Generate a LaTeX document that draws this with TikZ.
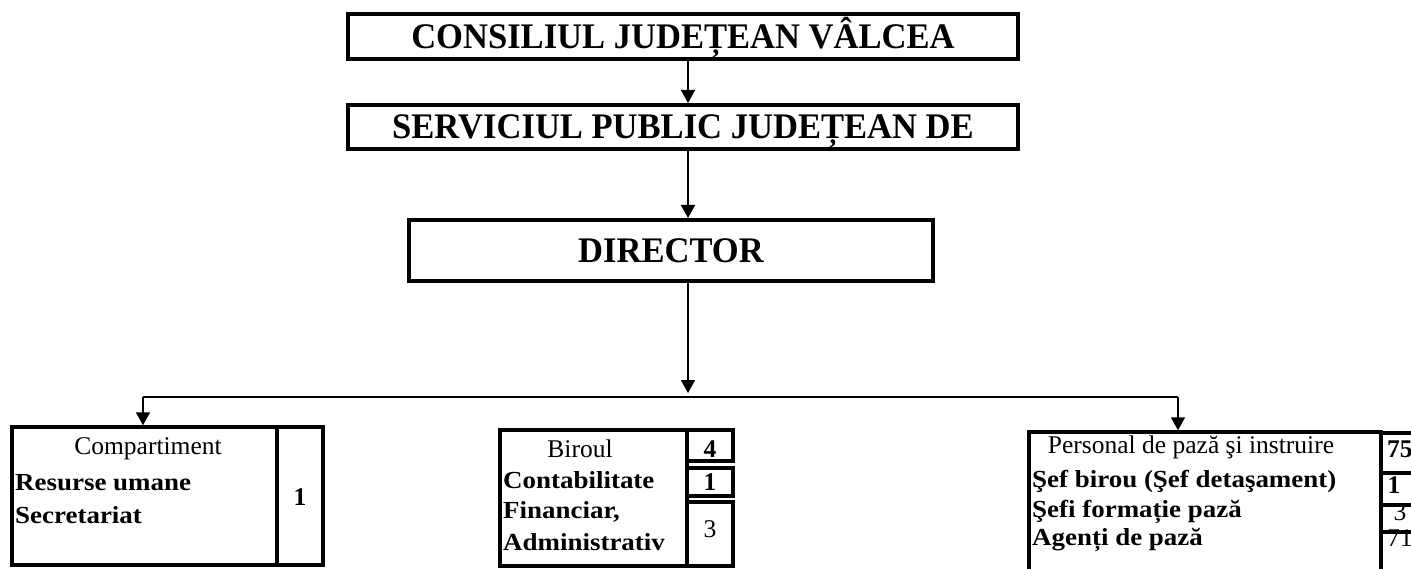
\documentclass[tikz,border=0pt]{standalone}
\usepackage{fontspec}
\setmainfont{Liberation Serif}
\newfontfamily\headfont[FakeStretch=0.96]{Liberation Serif}
\newfontfamily\widefont[FakeStretch=1.1]{Liberation Serif}
\usetikzlibrary{arrows.meta}

\begin{document}
\begin{tikzpicture}[x=1pt, y=-1pt,
  box/.style={draw, line width=4pt, inner sep=0pt,
    font=\fontsize{36}{42}\selectfont\headfont\bfseries,
    text height=24pt, text depth=0pt},
  cell/.style={draw, line width=3.5pt, inner sep=0pt},
  conn/.style={line width=1.8pt},
  arr/.style={conn, -{Triangle[length=13pt, width=14pt]}},
  txt/.style={inner sep=0pt, anchor=base, font=\fontsize{25.5}{30}\selectfont},
  txtb/.style={inner sep=0pt, anchor=base west, font=\fontsize{24.5}{30}\selectfont\widefont\bfseries},
  numb/.style={inner sep=0pt, anchor=base, font=\fontsize{25.5}{30}\selectfont\bfseries}
  ]
  \useasboundingbox (0,0) rectangle (1411,569);
  % top of the chart
  \node[box, minimum width=670pt, minimum height=45pt] (cjv) at (683,36.5) {CONSILIUL JUDEȚEAN VÂLCEA};
  \node[box, minimum width=670pt, minimum height=44pt] (spj) at (683,127) {SERVICIUL PUBLIC JUDEȚEAN DE};
  \node[box, minimum width=524pt, minimum height=61pt] (dir) at (671,250.5) {DIRECTOR};
  \coordinate (spine) at (688,0);
  \coordinate (split) at (688,397);
  \coordinate (bl) at (143,397);
  \coordinate (br) at (1178,397);

  % Compartiment
  \node[cell, minimum width=265pt, minimum height=138pt] (comp) at (144.5,496) {};
  \node[cell, minimum width=46pt, minimum height=138pt] (compNum) at (300,496) {};
  \node[txt] (compTitle) at (148,454) {Compartiment};
  \node[txtb] (ru) at (15,490) {Resurse umane};
  \node[txtb] (sec) at (15,523) {Secretariat};
  \node[numb] (compN) at (300,505) {1};

  % Biroul
  \node[cell, minimum width=187pt, minimum height=136pt] (bir) at (593.5,498) {};
  \node[cell, minimum width=46pt, minimum height=31pt] (birA) at (710,445.5) {};
  \node[cell, minimum width=46pt, minimum height=28pt] (birB) at (710,482) {};
  \node[cell, minimum width=46pt, minimum height=64pt] (birC) at (710,534) {};
  \node[txt] (birTitle) at (580,457) {Biroul};
  \node[txtb] (cont) at (503,488) {Contabilitate};
  \node[txtb] (fin) at (503,518) {Financiar,};
  \node[txtb] (adm) at (503,550) {Administrativ};
  \node[numb] (birNA) at (710,457) {4};
  \node[numb] (birNB) at (710,490) {1};
  \node[txt] (birNC) at (710,537) {3};

  % Personal de paza
  \node[cell, minimum width=352pt, minimum height=168pt] (pers) at (1205,516) {};
  \node[cell, minimum width=60pt, minimum height=40pt] (persA) at (1411,453) {};
  \node[cell, minimum width=60pt, minimum height=32pt] (persB) at (1411,489) {};
  \node[cell, minimum width=60pt, minimum height=27pt] (persC) at (1411,518.5) {};
  \node[cell, minimum width=60pt, minimum height=68pt] (persD) at (1411,566) {};
  \node[txt] (persTitle) at (1191,453) {Personal de pază şi instruire};
  \node[txtb] (sef) at (1032,487) {Şef birou (Şef detaşament)};
  \node[txtb] (sefi) at (1032,517) {Şefi formație pază};
  \node[txtb] (ag) at (1032,545) {Agenți de pază};
  \node[numb, anchor=base west] (persNA) at (1387,457) {75};
  \node[numb] (persNB) at (1394,493) {1};
  \node[txt] (persNC) at (1400,520) {3};
  \node[txt, anchor=base west] (persND) at (1387,546) {71};

  % connectors
  \draw[arr] (cjv.south -| spine) -- (spj.north -| spine);
  \draw[arr] (spj.south -| spine) -- (dir.north -| spine);
  \draw[arr] (dir.south -| spine) -- ([yshift=4pt]split);
  \draw[conn] (bl) -- (br);
  \draw[arr] (bl) -- (comp.north -| bl);
  \draw[arr] (br) -- (pers.north -| br);
\end{tikzpicture}
\end{document}
